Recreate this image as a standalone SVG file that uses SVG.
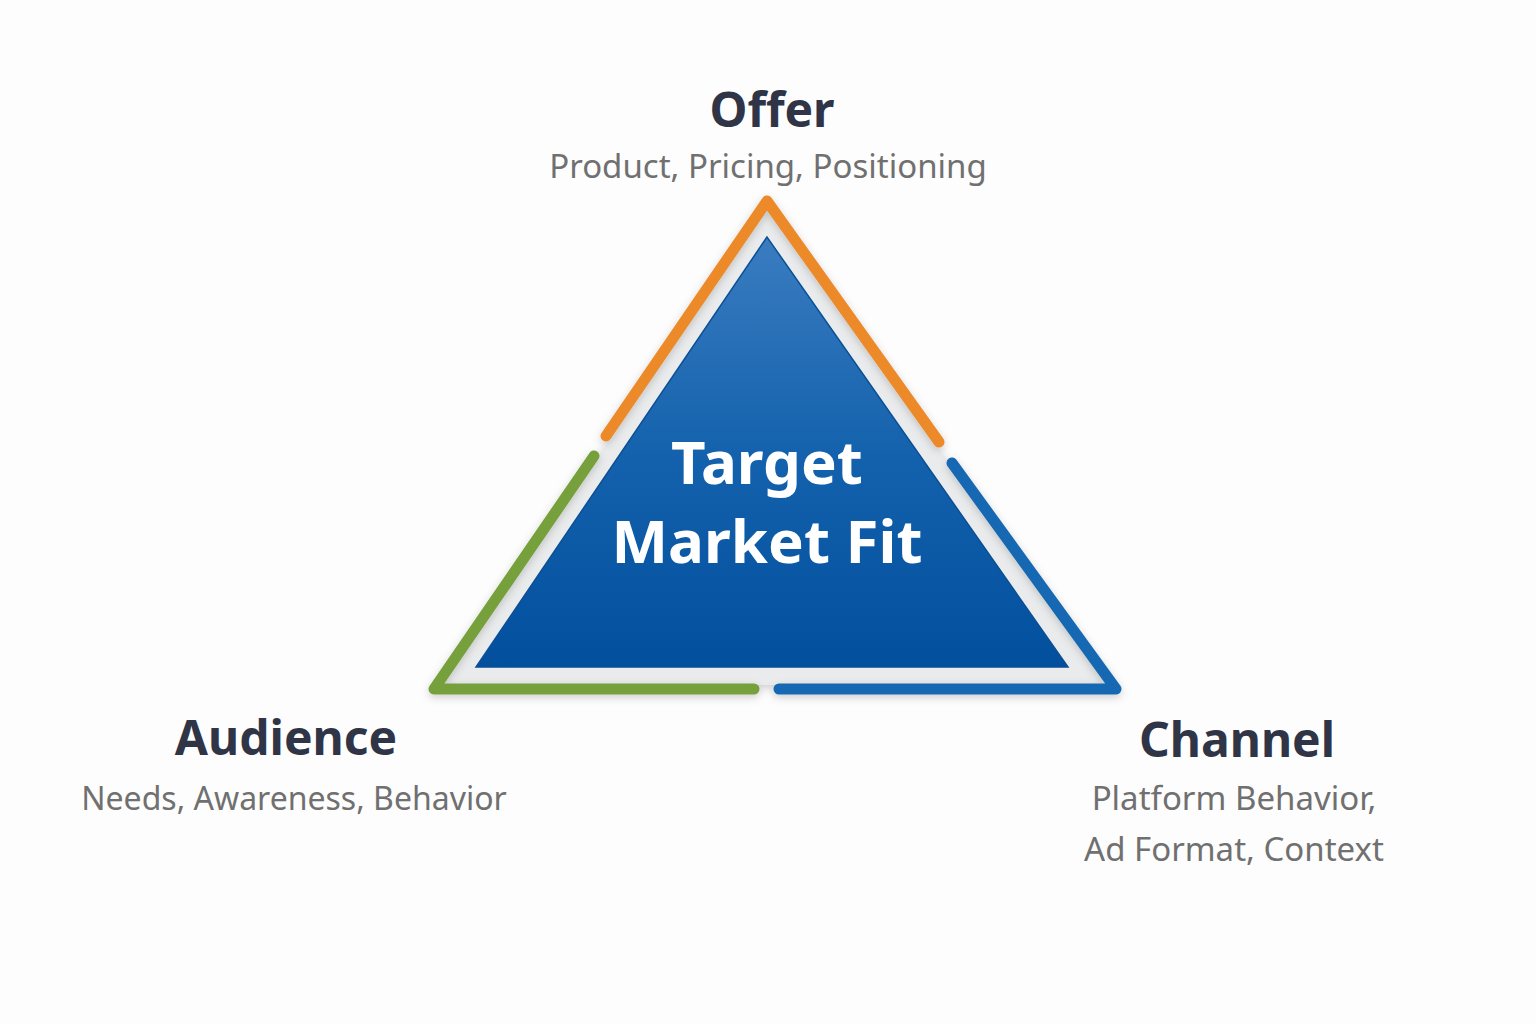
<svg xmlns="http://www.w3.org/2000/svg" width="1536" height="1024" viewBox="0 0 1536 1024">
<defs>
<style>
.title{font-family:"Noto Sans","Open Sans",sans-serif;font-weight:700;font-size:48px;fill:#2f3546;text-anchor:middle}
.sub{font-family:"Noto Sans","Open Sans",sans-serif;font-size:33px;fill:#707070;text-anchor:middle}
.sub2{font-size:32px}
.center{font-family:"Noto Sans","Open Sans",sans-serif;font-weight:700;font-size:60px;fill:#ffffff;text-anchor:middle}
.edge{fill:none;stroke-width:11;stroke-linecap:round;stroke-linejoin:round}
</style>
<linearGradient id="blueGrad" x1="0" y1="0" x2="0" y2="1">
<stop offset="0" stop-color="#3a7cc0"/>
<stop offset="0.5" stop-color="#1462ad"/>
<stop offset="1" stop-color="#024f9e"/>
</linearGradient>
<filter id="shadow" x="-10%" y="-10%" width="120%" height="120%">
<feDropShadow dx="0" dy="3" stdDeviation="4" flood-color="#000" flood-opacity="0.18"/>
</filter>
</defs>
<rect width="1536" height="1024" fill="#fdfdfd"/>
<g id="core">
<polygon points="767,208 442,685 1108,685" fill="#e9ebec" filter="url(#shadow)"/>
<polygon points="767,237 476,667 1068,667" fill="url(#blueGrad)" stroke="#0b4f94" stroke-width="1.5"/>
<text class="center" x="767" y="484">Target</text>
<text class="center" x="767" y="563">Market Fit</text>
</g>
<g id="connectors" filter="url(#shadow)">
<polyline class="edge" stroke="#ec8a2c" points="606,436 767,201 939,442"/>
<polyline class="edge" stroke="#76a03a" points="594,456 434,689 754,689"/>
<polyline class="edge" stroke="#1568b3" points="952,463 1116,689 779,689"/>
</g>
<g id="offer">
<text class="title" x="772" y="127">Offer</text>
<text class="sub" x="768" y="178">Product, Pricing, Positioning</text>
</g>
<g id="audience">
<text class="title" x="286" y="755">Audience</text>
<text class="sub sub2" x="294" y="810">Needs, Awareness, Behavior</text>
</g>
<g id="channel">
<text class="title" x="1237" y="757">Channel</text>
<text class="sub" x="1234" y="810">Platform Behavior,</text>
<text class="sub" x="1234" y="861">Ad Format, Context</text>
</g>
</svg>
